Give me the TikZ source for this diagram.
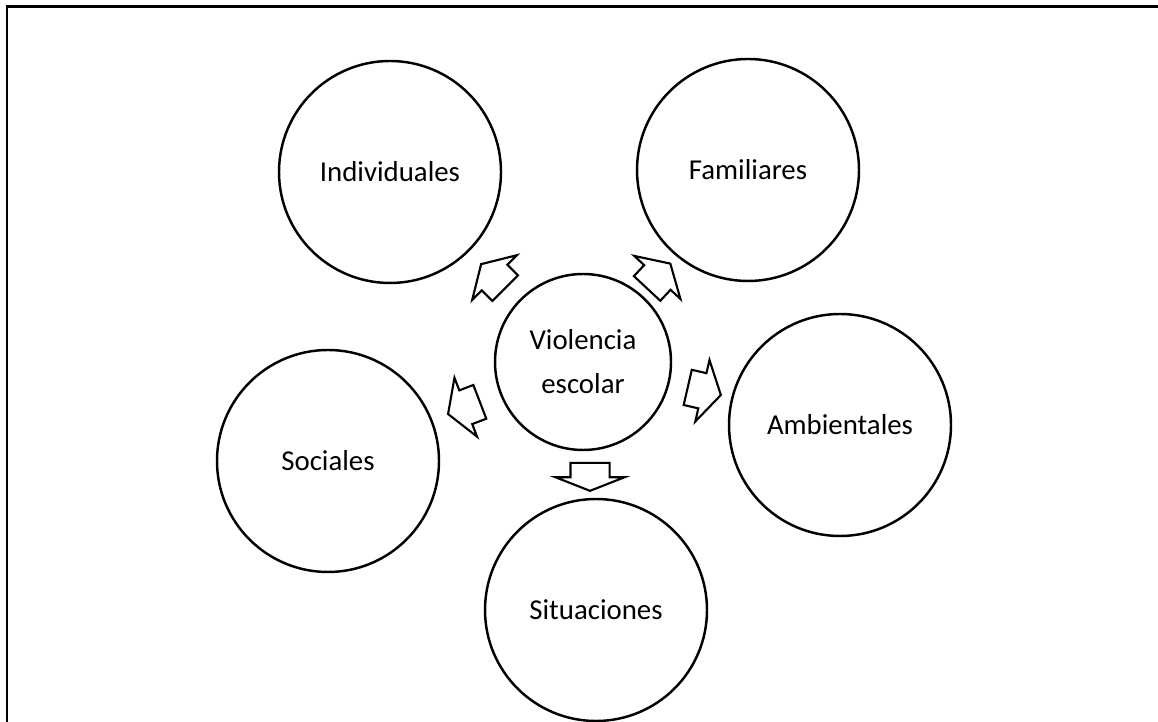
\documentclass[tikz,border=0pt]{standalone}
\usepackage{fontspec}
\setmainfont{Carlito}
\usetikzlibrary{shapes.arrows}

\tikzset{
    factor/.style={circle, draw, line width=1.4pt, minimum size=4.44cm, inner sep=0pt,
        font=\fontsize{16.4}{25}\selectfont},
    centro/.style={factor, minimum size=3.52cm, align=center},
    flecha/.style={single arrow, draw, line width=1.2pt, inner xsep=0pt, inner ysep=0.34cm,
        minimum height=0.68cm, single arrow head extend=0.27cm, single arrow tip angle=118}
}

\begin{document}
\begin{tikzpicture}
    \useasboundingbox (0,0) rectangle (23.16,14.44);

    % Marco
    \draw[line width=1.3pt] (23.16,14.31) -- (0.14,14.31) -- (0.14,0);

    % Centro
    \node[centro] (violencia) at (11.66,7.20) {Violencia\\escolar};

    % Factores
    \node[factor] (individuales) at (7.80,11.00) {Individuales};
    \node[factor] (familiares) at (14.96,11.04) {Familiares};
    \node[factor] (ambientales) at (16.80,5.94) {Ambientales};
    \node[factor] (sociales) at (6.56,5.22) {Sociales};
    \node[factor] (situaciones) at (11.92,2.24) {Situaciones};

    % Flechas de bloque
    \node[flecha, rotate=135] (fl-ind) at (9.94,8.84) {};
    \node[flecha, rotate=47] (fl-fam) at (13.10,8.84) {};
    \node[flecha, rotate=-13] (fl-amb) at (13.98,6.64) {};
    \node[flecha, rotate=201] (fl-soc) at (9.38,6.32) {};
    \node[flecha, rotate=-90, inner ysep=0.37cm, minimum height=0.56cm,
        single arrow head extend=0.3cm, single arrow tip angle=137] (fl-sit) at (11.80,4.98) {};
\end{tikzpicture}
\end{document}
